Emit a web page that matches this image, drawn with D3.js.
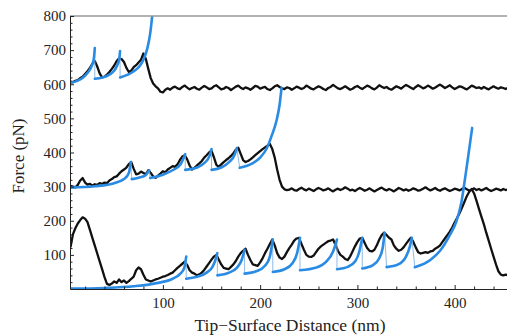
<!DOCTYPE html>
<html><head><meta charset="utf-8">
<script src="https://cdn.jsdelivr.net/npm/d3@7/dist/d3.min.js"></script>
<style>body{margin:0;background:#fff}svg{display:block}</style>
</head><body>
<svg id="c" width="507" height="336"></svg>
<script>
// ---- data ----
const xStart = 5, xStep = 2.5;   // sample spacing of the force traces (nm)
const xTicks = [100, 200, 300, 400];
const yTicks = [100, 200, 300, 400, 500, 600, 700, 800];

const traceTop = [
 608,606,610,612,618,622,630,638,648,660,
 668,652,632,620,622,628,636,645,655,668,
 676,674,665,648,636,640,650,656,664,672,
 690,674,645,618,602,594,588,578,576,584,
 588,584,590,593,588,586,592,596,590,585,
 589,592,587,584,590,595,591,586,588,594,
 597,591,585,587,592,589,583,588,593,596,
 590,586,591,588,584,589,595,593,587,590,
 592,586,583,588,594,597,592,588,586,591,
 589,584,588,593,590,586,589,596,592,587,
 585,590,594,591,586,583,589,592,598,593,
 588,586,590,594,589,584,587,592,595,590,
 586,591,596,593,588,585,590,597,593,589,
 592,587,584,589,594,591,587,593,598,594,
 590,586,592,597,593,588,591,596,592,587,
 590,595,599,594,589,593,597,591,586,590,
 594,592,588,585,590,596,593,589,591,587,
 592,588,585,590,594,590,587,591,589,586,
 590,588,591];

const traceMid = [
 302,300,298,305,318,325,312,306,308,303,
 307,305,310,308,312,310,318,322,328,330,
 338,345,350,356,366,372,352,336,338,344,
 340,336,348,340,330,326,332,338,345,342,
 350,355,360,358,365,378,388,392,380,362,
 350,355,362,368,375,385,392,400,405,386,
 364,358,365,372,378,383,390,398,408,414,
 396,378,372,375,380,386,392,398,404,410,
 415,420,425,410,385,350,320,300,292,290,
 291,295,290,288,293,297,292,289,294,291,
 287,292,296,293,289,291,295,290,286,291,
 294,290,293,298,294,289,291,287,292,296,
 292,288,291,295,290,286,290,294,297,292,
 289,293,290,286,291,296,293,289,292,288,
 291,295,292,288,290,294,298,293,289,292,
 296,291,288,292,295,291,287,290,294,292,
 289,293,297,292,288,291,295,290,293,289,
 292,296,291,287,290,294,292,289,293,290,
 292,295,291];

const traceLow = [
 122,160,178,192,202,210,206,196,173,150,
 127,104,81,58,35,15,12,16,22,18,
 28,20,25,18,23,30,36,55,63,58,
 42,28,25,22,25,28,30,33,36,38,
 41,45,48,55,62,68,74,80,70,55,
 48,45,40,43,48,56,66,76,86,95,
 100,86,72,62,60,58,65,72,82,95,
 105,112,118,100,85,72,70,68,78,90,
 105,118,132,145,128,105,92,88,95,108,
 120,130,142,148,150,132,115,100,95,94,
 98,108,118,125,130,135,140,142,145,130,
 112,100,95,88,85,95,110,125,138,148,
 150,135,120,112,110,115,128,145,158,165,
 158,150,145,128,118,112,115,122,132,142,
 150,138,122,108,104,106,108,106,110,112,
 118,122,128,138,148,158,168,180,195,208,
 222,238,255,272,285,293,280,258,235,212,
 190,165,142,118,95,72,52,42,40,42,
 40,41,40];

// worm-like-chain fit curves: [x (nm), force (pN)]
const fitsTop = [
 [[5,604],[12,610],[18,620],[23,635],[27,655],[29,675],[30,706]],
 [[30,616],[38,620],[45,628],[50,640],[53,655],[55,672],[56,697]],
 [[56,620],[64,628],[70,638],[76,653],[80,672],[84,705],[87,750],[89,800],[90,830]]
];
const fitsMid = [
 [[5,297],[30,301],[50,310],[60,322],[65,340],[67,372]],
 [[68,322],[75,326],[82,333],[86,348]],
 [[87,325],[100,335],[110,348],[118,365],[123,395]],
 [[123,349],[135,356],[143,370],[148,390],[150,410]],
 [[150,349],[160,356],[168,372],[174,395],[176,413]],
 [[179,355],[192,368],[200,385],[207,413],[212,450],[217,495],[220,540],[222,589]]
];
const fitsLow = [
 [[5,1],[40,3],[70,8],[95,18],[110,30],[118,45],[122,62],[124,95]],
 [[124,30],[135,36],[145,48],[151,65],[154,85],[156,105]],
 [[156,40],[168,48],[176,62],[181,85],[184,115]],
 [[184,45],[196,52],[205,68],[210,95],[213,145]],
 [[213,50],[225,58],[233,75],[238,105],[241,150]],
 [[241,55],[258,63],[268,80],[275,110],[279,145]],
 [[279,58],[290,65],[298,82],[302,110],[305,150]],
 [[305,60],[316,70],[322,88],[326,120],[328,165]],
 [[330,64],[342,72],[350,95],[354,125],[356,150]],
 [[359,64],[375,85],[385,112],[395,158],[402,200],[407,255],[411,330],[414,390],[418,472]]
];

// ---- layout ----
const svg = d3.select("#c");
const L = 70, T = 16, B = 289, R = 513;
const x = d3.scaleLinear().domain([4.5, 460]).range([L, R]);
const y = d3.scaleLinear().domain([0, 800]).range([B, T]);
const font = "'Liberation Serif','Times New Roman',serif";

svg.append("defs").append("clipPath").attr("id","clip")
  .append("rect").attr("x",L).attr("y",T).attr("width",R-L).attr("height",B-T);

const plot = svg.append("g").attr("clip-path","url(#clip)");

const toPts = arr => arr.map((v,i) => [xStart + i*xStep, v]);
const dataLine = d3.line().x(d=>x(d[0])).y(d=>y(d[1]));
const fitLine = d3.line().x(d=>x(d[0])).y(d=>y(d[1])).curve(d3.curveMonotoneX);

const blue = "#2a8be4", blueThin = "#8fbbe9";

function drawFits(fits){
  for (let i=0;i<fits.length-1;i++){
    const a = fits[i][fits[i].length-1], b = fits[i+1][0];
    plot.append("line").attr("x1",x(a[0])).attr("y1",y(a[1]))
      .attr("x2",x(b[0])).attr("y2",y(b[1]))
      .attr("stroke",blueThin).attr("stroke-width",1);
  }
  fits.forEach(f => plot.append("path").attr("d",fitLine(f))
    .attr("fill","none").attr("stroke",blue).attr("stroke-width",2.6)
    .attr("stroke-linecap","round"));
}

[traceTop, traceMid, traceLow].forEach(tr => {
  plot.append("path").attr("d", dataLine(toPts(tr)))
    .attr("fill","none").attr("stroke","#111").attr("stroke-width",2.3)
    .attr("stroke-linejoin","round");
});
drawFits(fitsTop); drawFits(fitsMid); drawFits(fitsLow);

// ---- frame & axes ----
svg.append("line").attr("x1",L).attr("x2",507).attr("y1",T).attr("y2",T)
  .attr("stroke","#999").attr("stroke-width",1.5);

const minorY = d3.range(20, 801, 20).filter(v => v % 100 !== 0);
const minorX = d3.range(20, 461, 20).filter(v => v % 100 !== 0);

svg.append("g").attr("transform",`translate(${L},0)`)
  .call(d3.axisLeft(y).tickValues(yTicks).tickSizeInner(-4).tickSizeOuter(0).tickPadding(4));
svg.append("g").attr("transform",`translate(${L},0)`)
  .call(d3.axisLeft(y).tickValues(minorY).tickSizeInner(-2.5).tickSizeOuter(0).tickFormat(""))
  .select(".domain").remove();

svg.append("g").attr("transform",`translate(0,${B})`)
  .call(d3.axisBottom(x).tickValues(xTicks).tickSizeInner(-4).tickSizeOuter(0).tickPadding(8));
svg.append("g").attr("transform",`translate(0,${B})`)
  .call(d3.axisBottom(x).tickValues(minorX).tickSizeInner(-2.5).tickSizeOuter(0).tickFormat(""))
  .select(".domain").remove();

svg.selectAll(".tick text").attr("font-family",font).attr("font-size",15).attr("fill","#222");
svg.selectAll(".domain, .tick line").attr("stroke","#222");

svg.append("text").attr("x",290).attr("y",331).attr("text-anchor","middle")
  .attr("font-family",font).attr("font-size",17.5).attr("fill","#222")
  .text("Tip\u2212Surface Distance (nm)");
svg.append("text").attr("transform","translate(24,156) rotate(-90)").attr("text-anchor","middle")
  .attr("font-family",font).attr("font-size",17).attr("fill","#222")
  .text("Force (pN)");
</script>
</body></html>
